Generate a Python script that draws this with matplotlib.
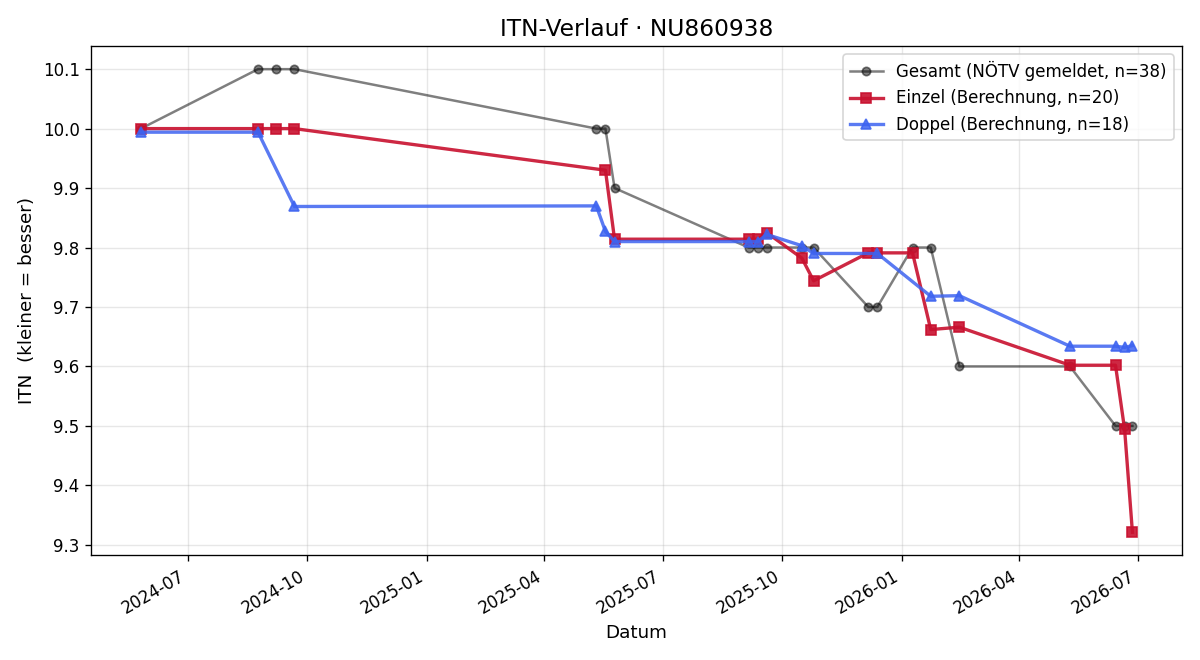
import pandas as pd
import matplotlib
matplotlib.use('Agg')
import matplotlib.pyplot as plt
import matplotlib.dates as mdates

# Gesamt (NÖTV gemeldet) - one value per match date
gesamt_dates = ['2024-05-26', '2024-08-24', '2024-09-07', '2024-09-21',
                '2025-05-11', '2025-05-18', '2025-05-25', '2025-09-05',
                '2025-09-12', '2025-09-19', '2025-10-16', '2025-10-25',
                '2025-12-06', '2025-12-13', '2026-01-09', '2026-01-23',
                '2026-02-14', '2026-05-10', '2026-06-14', '2026-06-21',
                '2026-06-27']
gesamt_itn = [10.0, 10.1, 10.1, 10.1,
              10.0, 10.0, 9.9, 9.8,
              9.8, 9.8, 9.8, 9.8,
              9.7, 9.7, 9.8, 9.8,
              9.6, 9.6, 9.5, 9.5,
              9.5]

# Einzel (Berechnung)
einzel_dates = ['2024-05-26', '2024-08-24', '2024-09-07', '2024-09-21',
                '2025-05-18', '2025-05-25', '2025-09-05', '2025-09-12',
                '2025-09-19', '2025-10-16', '2025-10-25', '2025-12-06',
                '2025-12-13', '2026-01-09', '2026-01-23', '2026-02-14',
                '2026-05-10', '2026-06-14', '2026-06-21', '2026-06-27']
einzel_itn = [10.0, 10.0, 10.0, 10.0,
              9.930, 9.814, 9.814, 9.814,
              9.825, 9.782, 9.744, 9.791,
              9.791, 9.791, 9.662, 9.666,
              9.602, 9.602, 9.494, 9.321]

# Doppel (Berechnung)
doppel_dates = ['2024-05-26', '2024-08-24', '2024-09-21', '2025-05-11',
                '2025-05-18', '2025-05-25', '2025-09-05', '2025-09-12',
                '2025-09-19', '2025-10-16', '2025-10-25', '2025-12-13',
                '2026-01-23', '2026-02-14', '2026-05-10', '2026-06-14',
                '2026-06-21', '2026-06-27']
doppel_itn = [9.994, 9.994, 9.869, 9.870,
              9.827, 9.810, 9.810, 9.810,
              9.822, 9.803, 9.790, 9.790,
              9.718, 9.719, 9.634, 9.634,
              9.632, 9.635]

fig, ax = plt.subplots(figsize=(10, 5.5), dpi=120)

ax.plot(pd.to_datetime(gesamt_dates), gesamt_itn, color='black', alpha=0.5,
        marker='o', markersize=5, linewidth=1.5,
        label='Gesamt (NÖTV gemeldet, n=38)')
ax.plot(pd.to_datetime(einzel_dates), einzel_itn, color='#C8102E', alpha=0.9,
        marker='s', markersize=6, linewidth=2,
        label='Einzel (Berechnung, n=20)')
ax.plot(pd.to_datetime(doppel_dates), doppel_itn, color='#3D63F0', alpha=0.85,
        marker='^', markersize=6, linewidth=2,
        label='Doppel (Berechnung, n=18)')

ax.xaxis.set_major_locator(mdates.MonthLocator(bymonth=[1, 4, 7, 10]))
ax.xaxis.set_major_formatter(mdates.DateFormatter('%Y-%m'))
ax.grid(True, alpha=0.3)
ax.set_title('ITN-Verlauf · NU860938', fontsize=14)
ax.set_xlabel('Datum', fontsize=11)
ax.set_ylabel('ITN  (kleiner = besser)', fontsize=11)
ax.legend(loc='upper right', fontsize=10)
fig.autofmt_xdate()
fig.tight_layout()
fig.savefig('out.png')
